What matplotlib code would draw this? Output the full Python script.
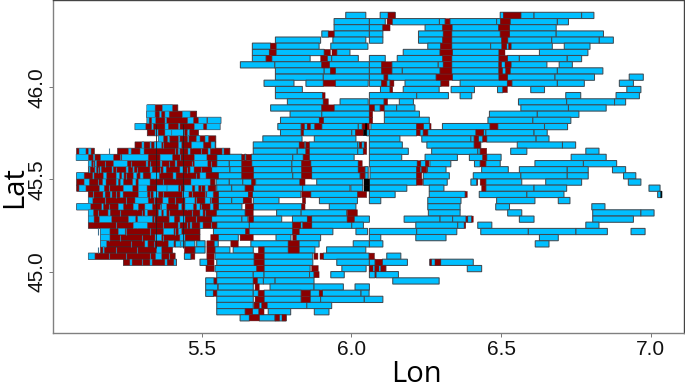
import matplotlib
matplotlib.use("Agg")
import matplotlib.pyplot as plt

row_lat = [46.389, 46.355, 46.322, 46.288, 46.255, 46.222, 46.188, 46.155, 46.121, 46.088,
           46.054, 46.021, 45.987, 45.954, 45.920, 45.887, 45.853, 45.820, 45.786, 45.753,
           45.719, 45.686, 45.652, 45.619, 45.585, 45.552, 45.519, 45.485, 45.452, 45.418,
           45.385, 45.351, 45.318, 45.284, 45.251, 45.217, 45.184, 45.150, 45.117, 45.083,
           45.050, 45.016, 44.983, 44.949, 44.916, 44.882, 44.849, 44.816, 44.782, 44.749]
row_step = 0.0335

# Cells with no fire (lon from, lon to), one list per row
blue_cells = [
 [(5.981,6.048),(6.096,6.146),(6.497,6.566),(6.566,6.610),(6.610,6.769),(6.769,6.810)],
 [(5.942,6.060),(6.060,6.113),(6.136,6.294),(6.294,6.313),(6.329,6.485),(6.485,6.530),(6.530,6.688),(6.688,6.725)],
 [(5.942,6.060),(6.060,6.105),(6.246,6.305),(6.336,6.492),(6.528,6.684)],
 [(5.901,5.923),(5.942,6.060),(6.060,6.105),(6.224,6.307),(6.335,6.497),(6.528,6.684),(6.684,6.842)],
 [(5.746,5.897),(5.938,6.048),(6.060,6.105),(6.224,6.305),(6.335,6.502),(6.522,6.669),(6.669,6.828),(6.828,6.875)],
 [(5.669,5.730),(5.748,5.892),(5.931,6.055),(6.255,6.298),(6.335,6.465),(6.465,6.533),(6.533,6.671),(6.711,6.797)],
 [(5.669,5.726),(5.748,5.909),(5.951,5.995),(6.173,6.296),(6.337,6.493),(6.628,6.790)],
 [(5.669,5.715),(5.734,5.862),(5.919,5.934),(5.934,6.023),(6.060,6.113),(6.153,6.305),(6.335,6.493),(6.521,6.561),(6.561,6.721),(6.721,6.769)],
 [(5.629,5.744),(5.744,5.901),(5.926,6.060),(6.060,6.101),(6.135,6.290),(6.290,6.307),(6.335,6.493),(6.493,6.533),(6.533,6.653),(6.694,6.738)],
 [(5.746,5.909),(5.909,5.946),(5.946,6.060),(6.060,6.101),(6.135,6.170),(6.170,6.296),(6.335,6.493),(6.493,6.530),(6.530,6.688),(6.688,6.840)],
 [(5.746,5.906),(5.906,6.060),(6.060,6.109),(6.121,6.283),(6.337,6.493),(6.521,6.680),(6.680,6.812),(6.928,6.975)],
 [(5.708,5.808),(5.848,5.906),(5.946,6.056),(6.060,6.101),(6.118,6.129),(6.179,6.299),(6.363,6.521),(6.536,6.688),(6.688,6.778),(6.895,6.942)],
 [(5.746,5.836),(6.097,6.129),(6.173,6.293),(6.333,6.411),(6.488,6.506),(6.599,6.645),(6.920,6.967)],
 [(5.746,5.904),(6.060,6.218),(6.218,6.324),(6.363,6.402),(6.716,6.766),(6.884,6.962)],
 [(5.786,5.906),(5.962,6.056),(6.060,6.109),(6.160,6.207),(6.558,6.719),(6.719,6.879),(6.879,6.916)],
 [(5.730,5.901),(5.942,6.060),(6.076,6.096),(6.109,6.151),(6.151,6.212),(6.566,6.725),(6.725,6.851)],
 [(5.795,5.901),(5.901,6.060),(6.110,6.227),(6.461,6.621),(6.621,6.760)],
 [(5.763,5.893),(5.906,6.060),(6.110,6.260),(6.456,6.606),(6.606,6.733)],
 [(5.754,5.832),(5.842,5.853),(5.862,5.878),(5.901,6.023),(6.023,6.036),(6.065,6.218),(6.240,6.262),(6.304,6.463),(6.489,6.645),(6.645,6.722)],
 [(5.763,5.832),(5.839,6.001),(6.001,6.014),(6.051,6.060),(6.060,6.218),(6.229,6.240),(6.255,6.416),(6.441,6.449),(6.449,6.610),(6.610,6.654)],
 [(5.704,5.835),(5.876,6.015),(6.060,6.162),(6.235,6.399),(6.399,6.410),(6.424,6.439),(6.452,6.617),(6.617,6.660)],
 [(5.672,5.826),(5.842,5.848),(5.859,6.021),(6.021,6.027),(6.034,6.043),(6.060,6.170),(6.252,6.410),(6.430,6.432),(6.554,6.705),(6.705,6.749)],
 [(5.672,5.819),(5.819,5.848),(5.859,6.021),(6.021,6.040),(6.060,6.190),(6.268,6.422),(6.422,6.430),(6.532,6.586),(6.783,6.827)],
 [(5.550,5.634),(5.643,5.648),(5.665,5.804),(5.804,5.839),(5.859,6.009),(6.060,6.168),(6.246,6.354),(6.394,6.439),(6.452,6.500),(6.734,6.851)],
 [(5.550,5.592),(5.592,5.634),(5.667,5.801),(5.801,5.834),(5.864,6.023),(6.060,6.220),(6.231,6.248),(6.262,6.332),(6.411,6.430),(6.449,6.497),(6.613,6.775),(6.775,6.886)],
 [(5.533,5.594),(5.594,5.634),(5.672,5.801),(5.801,5.834),(5.867,6.023),(6.045,6.056),(6.062,6.218),(6.229,6.235),(6.254,6.316),(6.435,6.524),(6.561,6.721),(6.721,6.791),(6.872,6.916)],
 [(5.555,5.634),(5.672,5.804),(5.804,5.834),(5.867,6.029),(6.045,6.056),(6.062,6.218),(6.240,6.327),(6.407,6.566),(6.566,6.721),(6.721,6.791),(6.909,6.950)],
 [(5.548,5.592),(5.592,5.637),(5.637,5.667),(5.680,5.828),(5.884,6.038),(6.060,6.218),(6.240,6.320),(6.399,6.419),(6.449,6.569),(6.649,6.769),(6.925,6.967)],
 [(5.550,5.600),(5.600,5.645),(5.672,5.837),(5.837,5.995),(5.998,6.038),(6.060,6.185),(6.260,6.309),(6.449,6.610),(6.610,6.719),(6.994,7.031)],
 [(5.555,5.656),(5.669,5.831),(5.864,6.021),(6.060,6.146),(6.260,6.380),(6.427,6.586),(6.586,6.710),(7.023,7.037)],
 [(5.555,5.600),(5.600,5.639),(5.672,5.758),(5.893,6.020),(6.060,6.098),(6.255,6.366),(6.485,6.613),(6.691,6.730)],
 [(5.555,5.634),(5.672,5.834),(5.926,6.015),(6.255,6.363),(6.482,6.528),(6.803,6.847)],
 [(5.548,5.645),(5.750,5.832),(5.832,5.984),(6.257,6.363),(6.522,6.569),(6.806,6.967),(6.967,7.011)],
 [(5.533,5.634),(5.634,5.654),(5.672,5.767),(5.803,5.853),(5.867,5.986),(6.009,6.060),(6.176,6.296),(6.296,6.338),(6.338,6.383),(6.388,6.402),(6.561,6.610),(6.806,6.942)],
 [(5.550,5.659),(5.659,5.804),(5.830,5.838),(5.867,6.001),(6.001,6.040),(6.215,6.355),(6.355,6.377),(6.422,6.469),(6.783,6.827)],
 [(5.539,5.647),(5.658,5.804),(5.825,5.938),(6.015,6.054),(6.060,6.218),(6.218,6.352),(6.432,6.591),(6.591,6.750),(6.750,6.855),(6.934,6.981)],
 [(5.555,5.622),(5.748,5.798),(5.815,5.897),(6.060,6.098),(6.215,6.316),(6.628,6.691)],
 [(5.411,5.444),(5.444,5.477),(5.483,5.511),(5.541,5.555),(5.664,5.789),(5.825,5.892),(6.006,6.060),(6.060,6.105),(6.614,6.660)],
 [(5.477,5.511),(5.544,5.594),(5.605,5.672),(5.708,5.789),(5.825,5.878),(5.917,6.048)],
 [(5.442,5.464),(5.544,5.675),(5.708,5.871),(5.906,6.059),(6.118,6.165)],
 [(5.494,5.519),(5.550,5.675),(5.708,5.871),(5.951,6.060),(6.060,6.079),(6.103,6.187),(6.262,6.298),(6.298,6.407)],
 [(5.544,5.684),(5.708,5.862),(5.968,6.049),(6.060,6.115),(6.387,6.435)],
 [(5.550,5.672),(5.672,5.708),(5.708,5.860),(5.860,5.875),(5.931,5.976),(6.060,6.079),(6.082,6.157)],
 [(5.513,5.541),(5.550,5.672),(5.685,5.706),(5.706,5.745),(5.745,5.875),(6.138,6.293)],
 [(5.513,5.553),(5.555,5.672),(5.728,5.875),(5.875,5.973),(6.012,6.060)],
 [(5.513,5.539),(5.550,5.672),(5.672,5.689),(5.708,5.832),(5.862,5.893),(5.903,6.032),(6.032,6.059)],
 [(5.550,5.672),(5.708,5.832),(5.862,5.897),(5.897,6.043),(6.043,6.105)],
 [(5.550,5.672),(5.675,5.718),(5.718,5.851),(5.851,5.934)],
 [(5.550,5.645),(5.669,5.691),(5.722,5.797),(5.876,5.925)],
 [(5.628,5.659),(5.692,5.745),(5.745,5.782)],
]

# Burned bands east of the dense block, one list per row
red_bands = [
 [(6.122,6.146),(6.507,6.566)],
 [(6.119,6.136),(6.313,6.329),(6.497,6.530)],
 [(6.105,6.129),(6.305,6.336),(6.492,6.528)],
 [(5.923,5.942),(6.307,6.335),(6.497,6.528)],
 [(6.305,6.335),(6.502,6.522)],
 [(5.730,5.748),(6.298,6.335),(6.502,6.519),(6.525,6.533)],
 [(5.726,5.748),(5.909,5.930),(5.935,5.951),(6.296,6.337),(6.493,6.513)],
 [(5.715,5.734),(5.897,5.919),(6.305,6.335),(6.493,6.521)],
 [(5.901,5.926),(6.101,6.135),(6.307,6.335),(6.493,6.502),(6.513,6.533)],
 [(5.929,5.946),(6.101,6.135),(6.296,6.335),(6.493,6.505),(6.515,6.530)],
 [(6.109,6.121),(6.283,6.337),(6.493,6.521)],
 [(5.906,5.946),(6.101,6.118),(6.129,6.142),(6.299,6.326),(6.521,6.536)],
 [(6.129,6.138),(6.506,6.521)],
 [(5.904,5.912)],
 [(5.906,5.923),(6.109,6.121)],
 [(5.901,5.942),(6.060,6.076),(6.096,6.109)],
 [(6.060,6.071)],
 [(5.893,5.906),(6.060,6.071)],
 [(5.832,5.842),(5.853,5.862),(5.878,5.901),(6.036,6.060),(6.218,6.240),(6.262,6.266),(6.463,6.489)],
 [(5.832,5.839),(6.014,6.040),(6.218,6.229),(6.240,6.255),(6.416,6.441)],
 [(6.410,6.424),(6.439,6.452)],
 [(5.826,5.842),(5.848,5.859),(6.027,6.034),(6.043,6.051),(6.410,6.430)],
 [(5.848,5.859),(6.040,6.051),(6.430,6.452)],
 [(5.634,5.643),(5.648,5.665),(5.839,5.859),(6.439,6.452)],
 [(5.634,5.667),(5.834,5.864),(6.023,6.036),(6.220,6.231),(6.248,6.259),(6.430,6.449)],
 [(5.634,5.672),(5.834,5.867),(6.023,6.045),(6.218,6.229),(6.235,6.252)],
 [(5.634,5.672),(5.834,5.867),(6.029,6.045),(6.218,6.235)],
 [(5.667,5.678),(5.828,5.845),(6.218,6.238),(6.419,6.422),(6.430,6.449)],
 [(5.645,5.672),(6.435,6.449)],
 [(5.656,5.669),(5.834,5.864),(6.021,6.051),(6.380,6.387)],
 [(5.639,5.667),(5.836,5.847)],
 [(5.645,5.672),(5.834,5.845)],
 [(5.645,5.672),(5.986,6.020)],
 [(5.656,5.672),(5.853,5.867),(5.986,6.009),(6.383,6.388),(6.402,6.407)],
 [(5.804,5.830),(5.838,5.867),(6.377,6.382)],
 [(5.647,5.658),(5.804,5.825)],
 [(5.530,5.555),(5.628,5.672),(5.804,5.815)],
 [(5.517,5.541),(5.597,5.622),(5.789,5.825)],
 [(5.442,5.477),(5.517,5.544),(5.689,5.708),(5.789,5.825)],
 [(5.464,5.477),(5.517,5.541),(5.675,5.708),(5.875,5.888),(5.895,5.906),(6.059,6.077)],
 [(5.519,5.541),(5.675,5.708),(6.079,6.103),(6.262,6.268),(6.279,6.298)],
 [(5.514,5.541),(5.684,5.708),(5.867,5.889),(6.060,6.072),(6.078,6.092),(6.098,6.115)],
 [(5.875,5.892),(6.079,6.082)],
 [(5.541,5.550),(5.672,5.685)],
 [(5.678,5.692)],
 [(5.539,5.550),(5.689,5.708),(5.832,5.862),(5.893,5.903)],
 [(5.678,5.708),(5.832,5.862)],
 [(5.675,5.692),(5.700,5.718)],
 [(5.645,5.669),(5.691,5.708)],
 [(5.659,5.692),(5.745,5.760),(5.768,5.782)],
]

# Near-black overlap spots: row, lon from, lon to
black_rows = [18, 19, 27, 28, 29]
black_from = [6.046, 6.040, 6.042, 6.042, 7.033]
black_to = [6.052, 6.051, 6.060, 6.060, 7.037]

# Dense western block: burned extent of each row, row index -> bands
west_red = {
 15: [(5.318,5.420)], 16: [(5.316,5.483)], 17: [(5.317,5.564)], 18: [(5.277,5.561)],
 19: [(5.318,5.489)], 20: [(5.355,5.547)], 21: [(5.277,5.547)],
 22: [(5.082,5.141),(5.219,5.594)], 23: [(5.082,5.550)], 24: [(5.121,5.550)],
 25: [(5.121,5.533)], 26: [(5.082,5.555)], 27: [(5.082,5.544)], 28: [(5.082,5.547)],
 29: [(5.121,5.555)], 30: [(5.121,5.555)], 31: [(5.082,5.555)], 32: [(5.121,5.548)],
 33: [(5.121,5.533)], 34: [(5.121,5.550)], 35: [(5.162,5.494)], 36: [(5.162,5.494)],
 37: [(5.162,5.411)], 38: [(5.162,5.402)], 39: [(5.121,5.411)], 40: [(5.238,5.416)],
}
# Unburned patches on top of that block
west_blue = {
 15: [(5.316,5.344),(5.368,5.402)],
 16: [(5.316,5.344),(5.359,5.365),(5.377,5.391),(5.435,5.461)],
 17: [(5.317,5.324),(5.333,5.346),(5.377,5.383),(5.453,5.472),(5.489,5.517),(5.520,5.564)],
 18: [(5.277,5.313),(5.333,5.338),(5.377,5.388),(5.422,5.427),(5.475,5.505),(5.517,5.561)],
 19: [(5.344,5.354),(5.377,5.400),(5.400,5.442),(5.453,5.459)],
 20: [(5.355,5.372),(5.386,5.391),(5.422,5.427),(5.453,5.457),(5.483,5.494),(5.511,5.522)],
 21: [(5.300,5.307),(5.327,5.331),(5.341,5.366),(5.422,5.433),(5.466,5.505),(5.531,5.544)],
 22: [(5.090,5.113),(5.121,5.130),(5.255,5.264),(5.294,5.307),(5.421,5.427),(5.454,5.461),(5.521,5.528),(5.568,5.574)],
 23: [(5.080,5.121),(5.138,5.143),(5.162,5.205),(5.233,5.321),(5.361,5.402),(5.475,5.517)],
 24: [(5.121,5.132),(5.143,5.149),(5.205,5.251),(5.314,5.320),(5.361,5.367),(5.411,5.417),(5.475,5.520)],
 25: [(5.123,5.127),(5.143,5.148),(5.160,5.164),(5.200,5.204),(5.247,5.254),(5.270,5.274),(5.327,5.334),(5.371,5.381),(5.427,5.437),(5.461,5.474)],
 26: [(5.082,5.107),(5.136,5.140),(5.171,5.182),(5.214,5.225),(5.233,5.240),(5.271,5.283),(5.294,5.304),(5.330,5.358),(5.404,5.414),(5.494,5.514)],
 27: [(5.107,5.124),(5.169,5.180),(5.214,5.221),(5.229,5.238),(5.269,5.280),(5.288,5.327),(5.464,5.528)],
 28: [(5.090,5.113),(5.158,5.174),(5.238,5.269),(5.288,5.317),(5.350,5.384),(5.384,5.422),(5.442,5.468),(5.477,5.489),(5.511,5.521)],
 29: [(5.170,5.177),(5.194,5.200),(5.227,5.237),(5.288,5.318),(5.338,5.355),(5.435,5.457),(5.517,5.538)],
 30: [(5.121,5.136),(5.277,5.321),(5.370,5.388),(5.444,5.477),(5.511,5.528)],
 31: [(5.082,5.129),(5.166,5.171),(5.221,5.238),(5.271,5.288),(5.310,5.335),(5.366,5.383),(5.422,5.433),(5.444,5.472),(5.483,5.494),(5.528,5.538)],
 32: [(5.121,5.138),(5.187,5.194),(5.310,5.319),(5.355,5.366),(5.372,5.383),(5.494,5.504)],
 33: [(5.121,5.140),(5.158,5.199),(5.255,5.279),(5.286,5.335),(5.391,5.408),(5.427,5.444)],
 34: [(5.271,5.318),(5.421,5.427),(5.461,5.467),(5.494,5.504)],
 35: [(5.162,5.193),(5.221,5.244),(5.372,5.407),(5.422,5.433)],
 36: [(5.162,5.193),(5.344,5.366),(5.427,5.444)],
 37: [(5.162,5.182),(5.310,5.320),(5.388,5.407)],
 38: [(5.170,5.174),(5.349,5.366)],
 39: [(5.121,5.143),(5.346,5.366)],
 40: [(5.260,5.267),(5.327,5.334),(5.377,5.384),(5.407,5.414)],
}

# Cell boundaries that show as dark lines through the dense block
west_cell_lon = [5.347, 5.436]
west_cell_lat_low = 45.13
west_cell_lat_high = 45.80
# Thin blue-grey stripes seen inside the dense block
west_stripe_lon = [5.135, 5.152, 5.176, 5.190, 5.212, 5.228, 5.246, 5.262, 5.285, 5.300,
                   5.326, 5.340, 5.360, 5.372, 5.392, 5.410, 5.428, 5.450, 5.466, 5.480,
                   5.498, 5.512, 5.530]
west_stripe_rows = [[23, 24, 29, 33], [25, 27, 32, 35, 38], [24, 26, 30, 37], [22, 28, 31, 36, 39],
                    [25, 29, 34, 38], [23, 27, 32, 36], [26, 30, 35, 39], [24, 28, 33, 37],
                    [25, 31, 34, 38], [22, 27, 32, 36, 40], [24, 29, 35, 39], [26, 30, 33, 37],
                    [23, 25, 31, 38], [21, 27, 29, 34, 36], [20, 24, 32, 39], [22, 26, 30, 35],
                    [23, 28, 33, 37], [19, 25, 31, 34], [21, 24, 29, 32], [20, 26, 30, 33],
                    [22, 25, 28, 31], [23, 27, 29, 32], [21, 24, 30, 34]]

lon_ticks = [5.5, 6.0, 6.5, 7.0]
lat_ticks = [45.0, 45.5, 46.0]

BLUE = "#00BFFF"
RED = "#8B0000"
EDGE = "#3f4a52"

fig = plt.figure(figsize=(6.85, 3.84), dpi=100)
ax = fig.add_axes([53.3 / 685, 50.7 / 384, 630.7 / 685, 333.0 / 384])


def draw(bands, lat, color, edge, lw, z):
    if not bands:
        return
    left = [a for a, b in bands]
    width = [b - a for a, b in bands]
    bars = ax.barh([lat] * len(bands), width, left=left, height=row_step * 1.01,
                   color=color, edgecolor=edge, linewidth=lw, zorder=z)
    for b in bars:
        b.set_snap(False)


for i, lat in enumerate(row_lat):
    draw(blue_cells[i], lat, BLUE, EDGE, 0.75, 2)
    draw(red_bands[i], lat, RED, "#4a2a30", 0.3, 3)
    draw(west_red.get(i, []), lat, RED, "#3a2a30", 0.5, 4)
    draw(west_blue.get(i, []), lat, BLUE, "#4a5f70", 0.35, 6)

for lon, rows in zip(west_stripe_lon, west_stripe_rows):
    ax.vlines([lon] * len(rows), [row_lat[r] - row_step / 2 for r in rows],
              [row_lat[r] + row_step / 2 for r in rows],
              color="#3f6f8f", linewidth=0.8, zorder=5)

ax.vlines(west_cell_lon, west_cell_lat_low, west_cell_lat_high, color="#2a1a20",
          linewidth=0.6, zorder=7)

for r, a, b in zip(black_rows, black_from, black_to):
    draw([(a, b)], row_lat[r], "black", "black", 0.2, 8)

ax.set_xlim(5.004, 7.111)
ax.set_ylim(44.665, 46.471)
ax.set_xticks(lon_ticks)
ax.set_xticklabels([f"{v:.1f}" for v in lon_ticks], family="Liberation Sans", fontsize=15)
ax.set_yticks(lat_ticks)
ax.set_yticklabels([f"{v:.1f}" for v in lat_ticks], family="Liberation Sans", fontsize=15,
                   rotation=90, va="center")
ax.tick_params(axis="both", length=3, width=0.7, color="#777777", pad=2, labelcolor="#111111")
for side in ["left", "bottom"]:
    ax.spines[side].set_color("#808080")
for side in ["top", "right"]:
    ax.spines[side].set_color("#444444")
for s in ax.spines.values():
    s.set_linewidth(1.0)

fig.text(416 / 685, 2 / 384, "Lon", family="Open Sans", fontsize=21, ha="center", va="baseline",
         color="black")
fig.text(22 / 685, 1 - 187 / 384, "Lat", family="Open Sans", fontsize=21, rotation=90,
         ha="center", va="baseline", rotation_mode="anchor", color="black")

fig.savefig("out.png", dpi=100)
